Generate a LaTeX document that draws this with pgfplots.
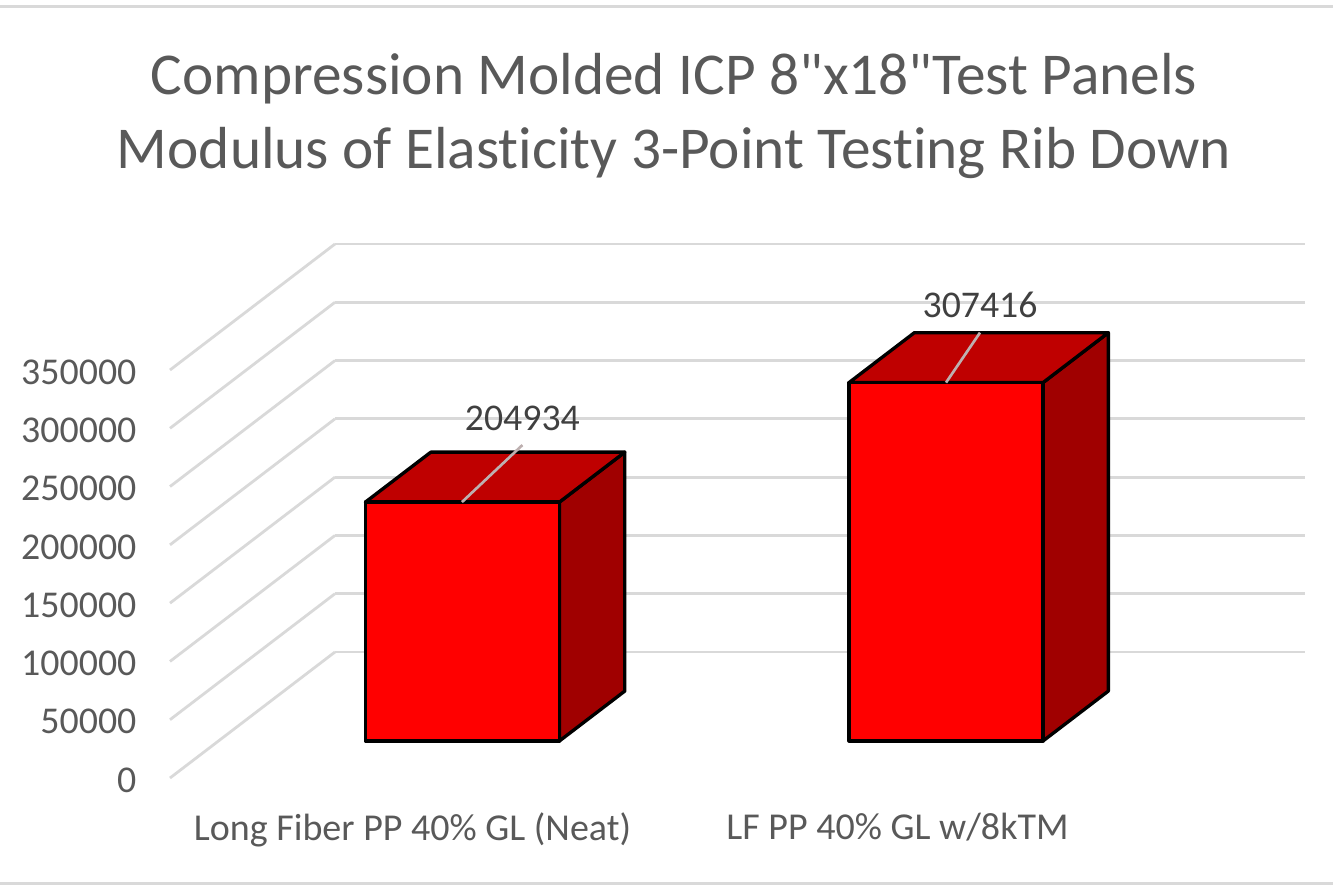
\documentclass[border=0pt]{standalone}
\usepackage{pgfplots}
\pgfplotsset{compat=1.18}
\usepackage{fontspec}
\setmainfont{Carlito}[Ligatures={TeXOff,NoCommon}]
\usetikzlibrary{calc}
\definecolor{gridc}{HTML}{D9D9D9}
\definecolor{txt}{HTML}{595959}
\definecolor{lab}{HTML}{404040}
\definecolor{topc}{HTML}{BF0000}
\definecolor{sidec}{HTML}{A00000}
\definecolor{leader}{HTML}{BDB0B0}
\begin{document}
\begin{tikzpicture}
\begin{axis}[
    x={(363.75pt,0pt)},
    y={(123.75pt,94.5pt)},
    z={(0pt,0.874286pt)},
    z coord trafo/.code={\begingroup\pgfkeys{/pgf/fpu=true}\pgfmathparse{#1/1000}\pgfmathfloattofixed{\pgfmathresult}\pgfmathsmuggle\pgfmathresult\endgroup},
    xmin=0.5, xmax=2.5,
    ymin=0, ymax=1,
    zmin=0, zmax=350000,
    xtick={1,2},
    xticklabels={Long Fiber PP 40\% GL (Neat),LF PP 40\% GL w/8kTM},
    ytick=\empty,
    ztick={0,50000,100000,150000,200000,250000,300000,350000},
    zticklabels={0,50000,100000,150000,200000,250000,300000,350000},
    zmajorgrids=true,
    grid style={gridc,line width=2.1pt},
    axis line style={draw=none},
    major tick length=0pt,
    tick style={draw=none},
    clip=false,
    xticklabel style={font=\fontsize{28.5}{30}\selectfont,text=txt,anchor=north,inner sep=0pt,yshift=-26pt},
    zticklabel style={font=\fontsize{28.4}{30}\selectfont,text=txt,anchor=east,inner sep=0pt,xshift=-25pt,yshift=-1.5pt},
    /pgf/number format/assume math mode=true,
]
\coordinate (o) at (axis cs:0.5,0,0);
% bar 1
\addplot3[fill=sidec,draw=black,line width=2.5pt,line join=round] coordinates {(1.203,0.294,0)(1.203,0.69,0)(1.203,0.69,204934)(1.203,0.294,204934)} -- cycle;
\addplot3[fill=topc,draw=black,line width=2.5pt,line join=round] coordinates {(0.803,0.294,204934)(1.203,0.294,204934)(1.203,0.69,204934)(0.803,0.69,204934)} -- cycle;
\addplot3[fill=red,draw=black,line width=2.5pt,line join=round] coordinates {(0.803,0.294,0)(1.203,0.294,0)(1.203,0.294,204934)(0.803,0.294,204934)} -- cycle;
% bar 2
\addplot3[fill=sidec,draw=black,line width=2.5pt,line join=round] coordinates {(2.2,0.294,0)(2.2,0.69,0)(2.2,0.69,307416)(2.2,0.294,307416)} -- cycle;
\addplot3[fill=topc,draw=black,line width=2.5pt,line join=round] coordinates {(1.8,0.294,307416)(2.2,0.294,307416)(2.2,0.69,307416)(1.8,0.69,307416)} -- cycle;
\addplot3[fill=red,draw=black,line width=2.5pt,line join=round] coordinates {(1.8,0.294,0)(2.2,0.294,0)(2.2,0.294,307416)(1.8,0.294,307416)} -- cycle;
% leader lines and values
\addplot3[color=leader,line width=2pt] coordinates {(1.002,0.294,204934)(1.004,0.654,214900)} node[above=10pt,font=\fontsize{28.3}{30}\selectfont,text=lab,inner sep=0pt,anchor=south] {204934};
\addplot3[color=leader,line width=2pt] coordinates {(2,0.294,307416)(2,0.5,328000)} node[above=10pt,font=\fontsize{28.3}{30}\selectfont,text=lab,inner sep=0pt,anchor=south] {307416};
\end{axis}
\begin{scope}[shift={(o)},x=0.75pt,y=-0.75pt]
\node[text=txt,font=\fontsize{44.5}{55}\selectfont,align=center,inner sep=0pt] at (674-170,116-778)
  {Compression Molded ICP 8"x18"Test Panels\\Modulus of Elasticity 3-Point Testing Rib Down};
\draw[gridc,line width=2.25pt] (-170,7-778) -- (1163,7-778);
\draw[gridc,line width=2.25pt] (-170,883-778) -- (1163,883-778);
\pgfresetboundingbox
\path[use as bounding box] (-170,-778) rectangle (1163,110);
\end{scope}
\end{tikzpicture}
\end{document}
